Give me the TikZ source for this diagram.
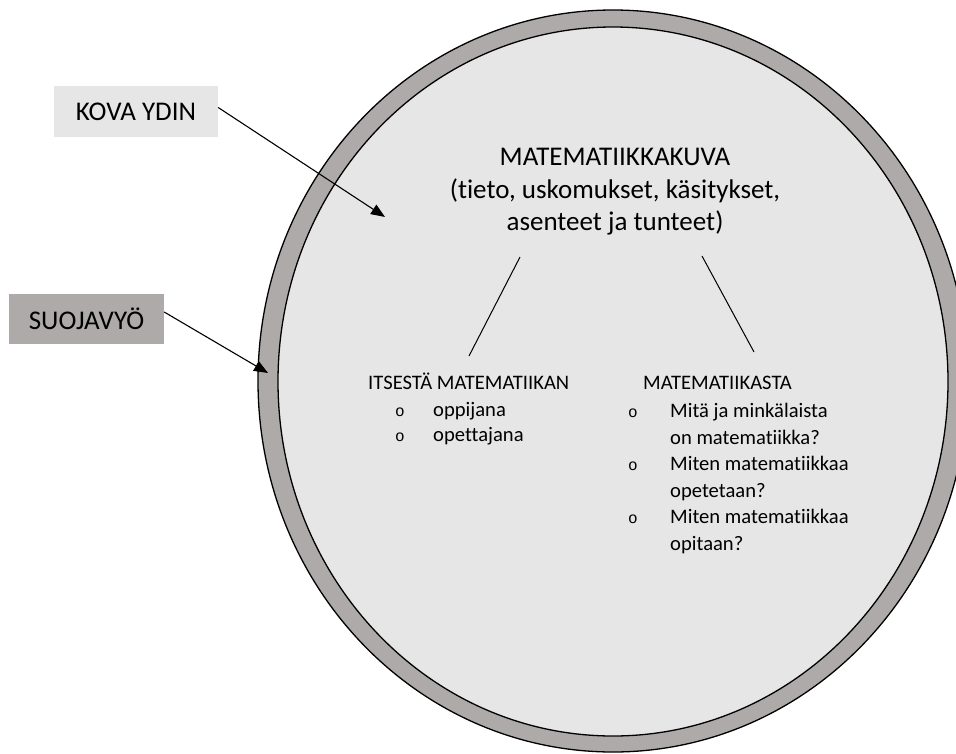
\documentclass[tikz,border=0pt]{standalone}
\usepackage{fontspec}
\setmainfont{Carlito}[Ligatures=NoCommon]
\newfontfamily\bulletfont{Liberation Mono}
\usetikzlibrary{arrows.meta}
\definecolor{coreGrey}{HTML}{E7E6E6}
\definecolor{beltGrey}{HTML}{AEAAAA}
\tikzset{
  labelbox/.style={inner sep=0pt, minimum width=#1, font=\fontsize{27}{32}\selectfont},
  bigtext/.style={inner sep=0pt, font=\fontsize{27}{32.5}\selectfont},
  smalltext/.style={inner sep=0pt, anchor=base west, font=\fontsize{20.6}{24}\selectfont},
  bulletmark/.style={inner sep=0pt, anchor=base, font=\bulletfont\fontsize{16}{18}\selectfont},
  pointer/.style={-{Triangle[length=14pt,width=11pt]}, line width=1.1pt},
  rim/.style={draw=black, line width=1.3pt}
}
\begin{document}
\begin{tikzpicture}[x=1pt,y=-1pt]
\useasboundingbox (0,0) rectangle (956,753);
\begin{scope}
\clip (0,0) rectangle (956,753);
\path[rim, fill=beltGrey] (613,381) ellipse [x radius=355, y radius=371];
\path[rim, fill=coreGrey] (613,381.5) ellipse [x radius=335, y radius=354.5];
\end{scope}
% labels
\node[labelbox=164, minimum height=51, fill=coreGrey] (kova) at (136,111.5) {KOVA YDIN};
\node[labelbox=155, minimum height=50, fill=beltGrey] (suoja) at (86.5,319) {SUOJAVYÖ};
\coordinate (kovatip) at (385,217);
\coordinate (suojatip) at (268,373);
\draw[pointer] ([yshift=4pt]kova.east) -- (kovatip);
\draw[pointer] ([yshift=7pt]suoja.east) -- (suojatip);
% title
\node[bigtext, anchor=north, align=center] (title) at (615,148)
  {MATEMATIIKKAKUVA\\(tieto, uskomukset, käsitykset,\\asenteet ja tunteet)};
% connector lines
\coordinate (la) at (520,257);
\coordinate (lb) at (469,356);
\coordinate (ra) at (702,256);
\coordinate (rb) at (754,352);
\draw[line width=1pt] (la) -- (lb);
\draw[line width=1pt] (ra) -- (rb);
% left block
\node[smalltext] (lhead) at (368,389) {ITSESTÄ MATEMATIIKAN};
\node[bulletmark] (lb1) at (400,416) {o};
\node[smalltext] (lt1) at (433,416) {oppijana};
\node[bulletmark] (lb2) at (400,441) {o};
\node[smalltext] (lt2) at (433,441) {opettajana};
% right block
\node[smalltext] (rhead) at (643,389) {MATEMATIIKASTA};
\node[bulletmark] (rb1) at (633,417) {o};
\node[smalltext] (rt1) at (670,417) {Mitä ja minkälaista};
\node[smalltext] (rt1b) at (670,444) {on matematiikka?};
\node[bulletmark] (rb2) at (633,470) {o};
\node[smalltext] (rt2) at (670,470) {Miten matematiikkaa};
\node[smalltext] (rt2b) at (670,497) {opetetaan?};
\node[bulletmark] (rb3) at (633,523) {o};
\node[smalltext] (rt3) at (670,523) {Miten matematiikkaa};
\node[smalltext] (rt3b) at (670,550) {opitaan?};
\end{tikzpicture}
\end{document}
